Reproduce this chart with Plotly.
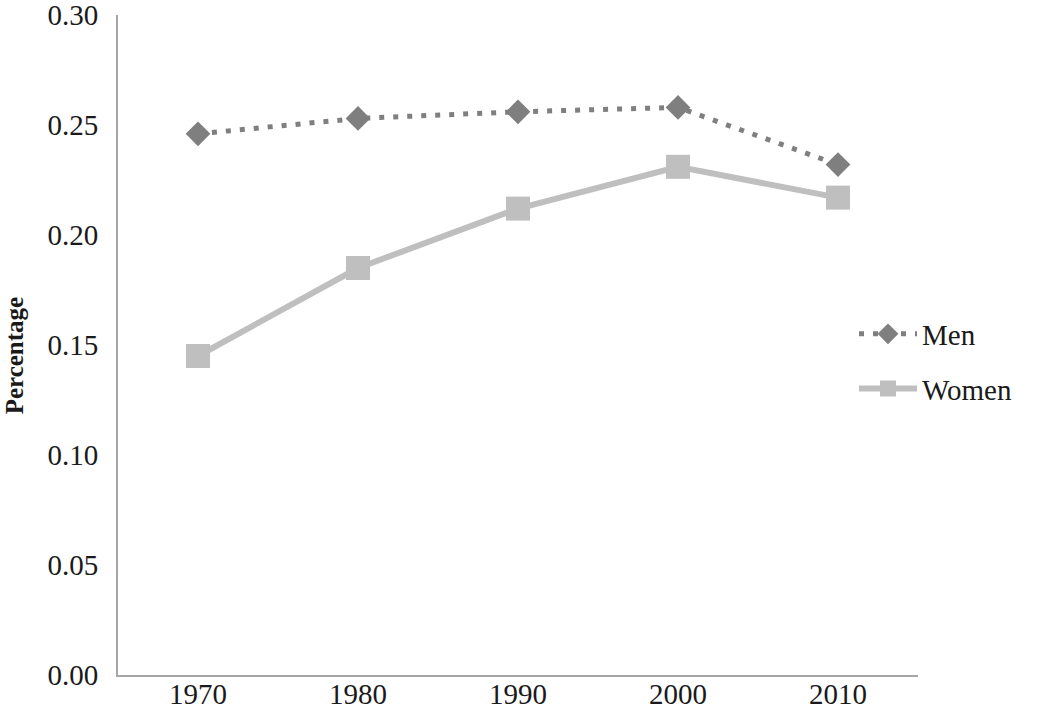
import plotly.graph_objects as go

years = ["1970", "1980", "1990", "2000", "2010"]
men = [0.246, 0.253, 0.256, 0.258, 0.232]
women = [0.145, 0.185, 0.212, 0.231, 0.217]
y_ticks = [0.00, 0.05, 0.10, 0.15, 0.20, 0.25, 0.30]

fig = go.Figure()
fig.add_trace(go.Scatter(x=years, y=men, mode='lines+markers', name='Men', legendgroup='m',
	line=dict(color='#7f7f7f', width=5, dash='5px,9px'),
	marker=dict(symbol='diamond', size=19, color='#7f7f7f')))
fig.add_trace(go.Scatter(x=years, y=women, mode='lines+markers', name='Women', legendgroup='w',
	line=dict(color='#bfbfbf', width=6),
	marker=dict(symbol='square', size=24, color='#bfbfbf')))

fig.update_layout(
	width=1050, height=711,
	margin=dict(l=118, r=132, t=15, b=36),
	paper_bgcolor='white', plot_bgcolor='white',
	font=dict(family='Liberation Serif', size=29, color='#1a1a1a'),
	legend=dict(x=0.92, y=0.475, xanchor='left', yanchor='middle',
		itemwidth=58, tracegroupgap=14, font=dict(size=29)),
)
fig.update_xaxes(type='category', range=[-0.5, 4.5], showgrid=False, automargin=False,
	showline=True, linecolor='#a6a6a6', linewidth=2, ticks='', ticklabelstandoff=-8,
	ticklabeloverflow='allow')
fig.update_yaxes(range=[0, 0.30], tickvals=y_ticks, tickformat='.2f', showgrid=False,
	automargin=False, showline=True, linecolor='#a6a6a6', linewidth=2, ticks='',
	zeroline=False, ticklabelstandoff=12, ticklabeloverflow='allow')

# axis title as an annotation so it can sit a little below centre like the original
fig.add_annotation(text='<b>Percentage</b>', textangle=-90, showarrow=False,
	xref='paper', yref='paper', x=-0.129, y=0.484, xanchor='center', yanchor='middle',
	font=dict(size=25))

# drop the default page margin so the figure sits at the window's corner
fig.write_html("out.html", config={'displayModeBar': False},
	post_script="document.body.style.margin='0';")
